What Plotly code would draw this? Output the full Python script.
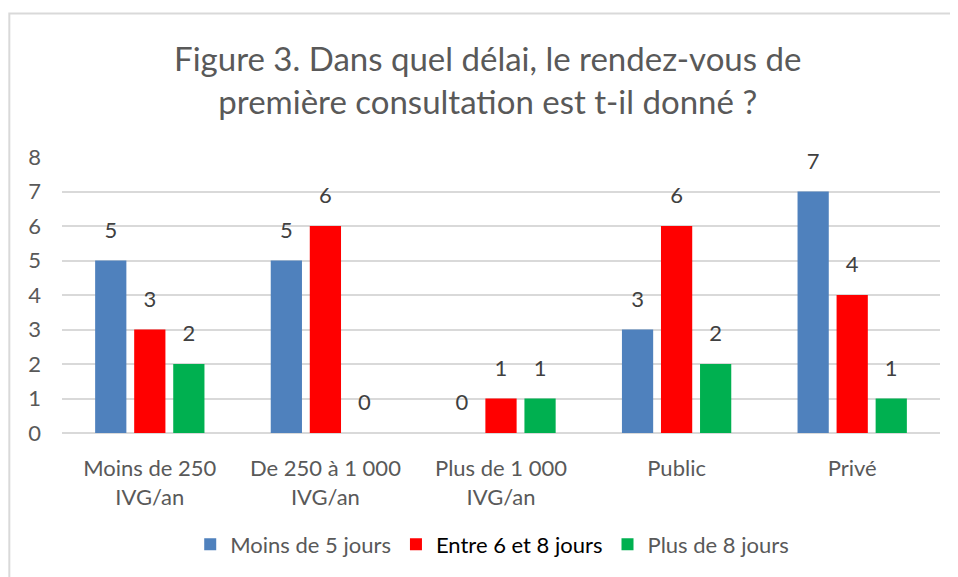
import plotly.graph_objects as go

# categories and series values
categories = ["Moins de 250<br>IVG/an", "De 250 à 1 000<br>IVG/an",
              "Plus de 1 000<br>IVG/an", "Public", "Privé"]
moins_5 = [5, 5, 0, 3, 7]
entre_6_8 = [3, 6, 1, 6, 4]
plus_8 = [2, 0, 1, 2, 1]

series = [
    ("Moins de 5 jours", moins_5, "#4f81bd"),
    ("<span style='color:#000000'>Entre 6 et 8 jours</span>", entre_6_8, "#ff0000"),
    ("Plus de 8 jours", plus_8, "#00b050"),
]

FONT = "Lato, 'Open Sans', sans-serif"
GREY = "#595959"

fig = go.Figure()

for i, (name, vals, col) in enumerate(series):
    fig.add_trace(go.Bar(
        x=categories, y=vals, name=name,
        offsetgroup=str(i),
        marker=dict(color=col, line=dict(width=0)),
    ))

# value labels, grouped like the bars; the invisible marker pushes the text up
for i, (name, vals, col) in enumerate(series):
    fig.add_trace(go.Scatter(
        x=categories, y=vals, mode="markers+text",
        text=[str(v) for v in vals],
        textposition="top center",
        textfont=dict(family=FONT, size=22, color="#404040"),
        marker=dict(size=26, color="rgba(0,0,0,0)"),
        offsetgroup=str(i),
        showlegend=False, hoverinfo="skip", cliponaxis=False,
    ))

# the page body has an 8px margin, so the figure is 8px smaller
fig.update_layout(
    width=950, height=569,
    margin=dict(l=54, r=18, t=149, b=141),
    paper_bgcolor="white", plot_bgcolor="white",
    font=dict(family=FONT, size=22, color=GREY),
    barmode="group", bargap=0.333, bargroupgap=0.2,
    scattermode="group", scattergap=0.333,
    title=dict(
        text="Figure 3. Dans quel délai, le rendez-vous de<br>première consultation est t-il donné ?",
        x=0.505, xanchor="center", y=0.889, yanchor="top",
        font=dict(family=FONT, size=33, color=GREY),
    ),
    legend=dict(
        orientation="h", x=0.49, xanchor="center", y=-0.404, yanchor="middle",
        font=dict(family=FONT, size=22, color=GREY),
        itemwidth=30, traceorder="normal",
    ),
    showlegend=True,
)

fig.update_yaxes(
    range=[0, 8], dtick=1, showgrid=True, gridcolor="#d9d9d9", gridwidth=1.5,
    zeroline=True, zerolinecolor="#d9d9d9", zerolinewidth=1.5,
    showline=False, ticks="", ticklabelstandoff=20,
    tickfont=dict(family=FONT, size=22, color=GREY),
)
fig.update_xaxes(
    showline=False, ticks="", ticklabelstandoff=20,
    tickfont=dict(family=FONT, size=22, color=GREY),
)

# light grey frame around the whole chart
fig.add_shape(type="rect", xref="paper", yref="paper",
              x0=-0.06, x1=1.03, y0=-0.53, y1=1.52,
              line=dict(color="#d9d9d9", width=2), fillcolor="rgba(0,0,0,0)",
              layer="below")

fig.write_html("out.html")
